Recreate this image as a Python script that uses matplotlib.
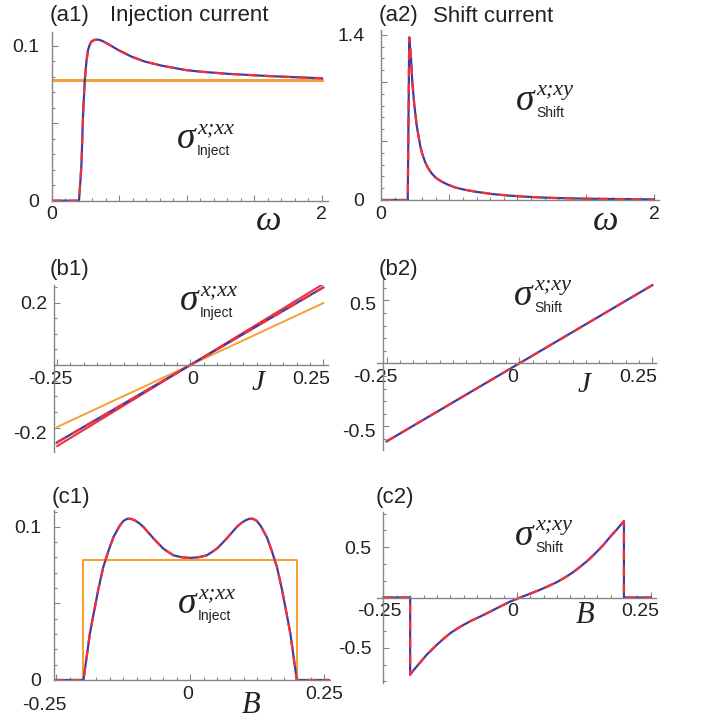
"""Six-panel figure: injection and shift current conductivities vs omega, J and B."""
import matplotlib
matplotlib.use("Agg")
import matplotlib.pyplot as plt
from matplotlib.ticker import MultipleLocator
from matplotlib.transforms import ScaledTranslation

W, H = 702, 719

# (a1) injection current vs omega
omega_a1 = [0.0, 0.200, 0.210, 0.218, 0.230, 0.243, 0.255, 0.267, 0.280, 0.292, 0.315,
            0.341, 0.365, 0.391, 0.44, 0.49, 0.589, 0.687, 0.811, 0.984, 1.095, 1.30,
            1.59, 1.80, 2.0]
inject_a1 = [0.0, 0.0, 0.0123, 0.0231, 0.0554, 0.0780, 0.0899, 0.0974, 0.1008, 0.1028, 0.1039,
             0.1041, 0.1035, 0.1024, 0.1000, 0.0974, 0.0931, 0.0899, 0.0873, 0.0845, 0.0834, 0.0820,
             0.0806, 0.0798, 0.0791]
omega_a1_ref = [0.0, 2.0]
inject_a1_ref = [0.078, 0.078]

# (a2) shift current vs omega
omega_a2 = [0.0, 0.196, 0.207, 0.220, 0.229, 0.244, 0.261, 0.286, 0.300, 0.322, 0.345,
            0.371, 0.400, 0.444, 0.490, 0.542, 0.600, 0.689, 0.811, 0.920, 1.055, 1.245,
            1.5, 2.0]
shift_a2 = [0.0, 0.0, 1.377, 1.202, 1.004, 0.806, 0.636, 0.467, 0.400, 0.325, 0.270,
            0.226, 0.190, 0.156, 0.130, 0.107, 0.090, 0.071, 0.051, 0.039, 0.028, 0.018,
            0.011, 0.005]

# (b1) injection current vs J
J_b = [-0.25, 0.0, 0.25]
inject_b1_exact = [-0.247, 0.0, 0.248]
inject_b1_approx = [-0.259, 0.0, 0.259]
inject_b1_ref = [-0.198, 0.0, 0.198]

# (b2) shift current vs J
shift_b2 = [-0.62, 0.0, 0.62]

# (c1) injection current vs B
B_c1 = [-0.254, -0.199, -0.193, -0.187, -0.180, -0.171, -0.162, -0.152, -0.143, -0.131,
        -0.124, -0.117, -0.110, -0.103, -0.095, -0.087, -0.078, -0.068, -0.059, -0.050,
        -0.040, -0.031, -0.015, 0.0, 0.015, 0.031, 0.040, 0.050, 0.059, 0.068,
        0.078, 0.087, 0.095, 0.103, 0.110, 0.117, 0.124, 0.131, 0.143, 0.152,
        0.162, 0.171, 0.180, 0.187, 0.193, 0.199, 0.26]
inject_c1 = [0.0, 0.0, 0.0152, 0.0304, 0.0434, 0.0597, 0.0738, 0.0847, 0.0934, 0.1010,
             0.1040, 0.1053, 0.1052, 0.1042, 0.1024, 0.0999, 0.0963, 0.0923, 0.0890, 0.0858,
             0.0834, 0.0814, 0.0801, 0.0797, 0.0801, 0.0814, 0.0834, 0.0858, 0.0890, 0.0923,
             0.0963, 0.0999, 0.1024, 0.1042, 0.1052, 0.1053, 0.1040, 0.1010, 0.0934, 0.0847,
             0.0738, 0.0597, 0.0434, 0.0304, 0.0152, 0.0, 0.0]
B_c1_ref = [-0.254, -0.2, -0.2, 0.2, 0.2, 0.26]
inject_c1_ref = [0.0, 0.0, 0.0785, 0.0785, 0.0, 0.0]

# (c2) shift current vs B
B_c2 = [-0.25, -0.2, -0.2, -0.194, -0.1875, -0.169, -0.150, -0.1375, -0.125, -0.1125,
        -0.100, -0.085, -0.069, -0.053, -0.038, -0.013, 0.006, 0.023, 0.040, 0.056,
        0.072, 0.087, 0.103, 0.118, 0.134, 0.149, 0.162, 0.174, 0.187, 0.2, 0.2, 0.25]
shift_c2 = [0.0, 0.0, -0.767, -0.725, -0.685, -0.569, -0.470, -0.410, -0.355, -0.311,
            -0.272, -0.229, -0.190, -0.148, -0.107, -0.041, 0.0, 0.035, 0.070, 0.107,
            0.146, 0.190, 0.244, 0.305, 0.375, 0.453, 0.525, 0.602, 0.678, 0.760, 0.0, 0.0]

BLUE = "#3c3ca2"
RED = "#f2303c"
ORANGE = "#f5a036"
GREY = "#858585"
INK = "#222222"

plt.rcParams["font.family"] = ["Liberation Sans", "DejaVu Sans"]
plt.rcParams["lines.scale_dashes"] = False

fig = plt.figure(figsize=(W / 100, H / 100), dpi=100)


def px_axes(x0, x1, y0, y1, xlim, ylim, yaxis_at=None):
    ax = fig.add_axes([x0 / W, 1 - y1 / H, (x1 - x0) / W, (y1 - y0) / H])
    ax.set_xlim(xlim)
    ax.set_ylim(ylim)
    ax.patch.set_alpha(0)
    for s in ("top", "right"):
        ax.spines[s].set_visible(False)
    ax.spines["bottom"].set_position(("data", 0))
    if yaxis_at is not None:
        ax.spines["left"].set_position(("data", yaxis_at))
    for s in ("bottom", "left"):
        ax.spines[s].set_color(GREY)
        ax.spines[s].set_linewidth(1.0)
    return ax


def ticks(ax, xt, xl, yt, yl, xminor, yminor, ypad=7):
    ax.set_xticks(xt, labels=xl)
    ax.set_yticks(yt, labels=yl)
    ax.xaxis.set_minor_locator(MultipleLocator(xminor))
    ax.yaxis.set_minor_locator(MultipleLocator(yminor))
    ax.tick_params(which="both", direction="in", color=GREY, width=0.8,
                   labelsize=14, labelcolor=INK)
    ax.tick_params(which="major", length=4.5)
    ax.tick_params(which="minor", length=2.5)
    ax.tick_params(axis="x", pad=4)
    ax.tick_params(axis="y", pad=ypad)


def nudge(labels, shifts):
    for lab, (dx, dy) in zip(labels, shifts):
        lab.set_transform(lab.get_transform()
                          + ScaledTranslation(dx / 100, -dy / 100, fig.dpi_scale_trans))


def pair(ax, x, y):
    ax.plot(x, y, color=BLUE, lw=1.6, solid_joinstyle="round")
    ax.plot(x, y, color=RED, lw=1.6, linestyle=(0, (7, 5)))


def ftext(x, y, s, **kw):
    kw.setdefault("color", INK)
    fig.text(x / W, 1 - y / H, s, **kw)


def sigma(x, y, sup, sub):
    ftext(x, y, "σ", fontsize=27, family="Liberation Serif", style="italic", va="baseline")
    ftext(x + 20, y - 15, sup, fontsize=16, family="Liberation Serif", style="italic",
          va="baseline")
    ftext(x + 20, y + 7, sub, fontsize=10, va="baseline")


def var(x, y, s, size):
    ftext(x, y, s, fontsize=size, family="Liberation Serif", style="italic", va="baseline")


# (a1)
ax = px_axes(52, 328, 32, 200.7, (0, 2.045), (0, 0.109))
ax.plot(omega_a1_ref, inject_a1_ref, color=ORANGE, lw=2.2)
pair(ax, omega_a1, inject_a1)
ticks(ax, [0, 0.5, 1, 1.5, 2], ["0", "", "", "", "2"],
      [0, 0.05, 0.1], ["0", "", "0.1"], 0.1, 0.01, ypad=9)

# (a2)
ax = px_axes(381, 659, 30, 200, (0, 2.037), (0, 1.44))
pair(ax, omega_a2, shift_a2)
ticks(ax, [0, 0.5, 1, 1.5, 2], ["0", "", "", "", "2"],
      [0, 0.5, 1.0, 1.4], ["0", "", "", "1.4"], 0.1, 0.1, ypad=12)

# (b1)
ax = px_axes(54, 328, 285, 452, (-0.256, 0.259), (-0.278, 0.256))
ax.plot(J_b, inject_b1_ref, color=ORANGE, lw=1.4)
ax.plot(J_b, inject_b1_approx, color=RED, lw=1.5)
pair(ax, J_b, inject_b1_exact)
ticks(ax, [-0.25, 0, 0.25], ["-0.25", "0", "0.25"],
      [-0.2, 0.2], ["-0.2", "0.2"], 0.025, 0.05, ypad=5)
nudge(ax.get_xticklabels(), [(-7, 0), (2, 0), (-12, 0)])
nudge(ax.get_yticklabels(), [(0, 5), (0, 0)])

# (b2)
ax = px_axes(377, 656, 278, 450, (-0.268, 0.257), (-0.688, 0.677), yaxis_at=-0.257)
pair(ax, J_b, shift_b2)
ticks(ax, [-0.25, 0, 0.25], ["-0.25", "0", "0.25"],
      [-0.5, 0.5], ["-0.5", "0.5"], 0.025, 0.1, ypad=5)
nudge(ax.get_xticklabels(), [(-11, 0), (-7, 0), (-14, 0)])
nudge(ax.get_yticklabels(), [(0, 4), (0, 3)])

# (c1)
ax = px_axes(54, 330, 510, 680, (-0.254, 0.261), (0, 0.111))
ax.plot(B_c1_ref, inject_c1_ref, color=ORANGE, lw=1.5)
pair(ax, B_c1, inject_c1)
ticks(ax, [-0.25, 0, 0.25], ["-0.25", "0", "0.25"],
      [0, 0.05, 0.1], ["0", "", "0.1"], 0.025, 0.01, ypad=9)
nudge(ax.get_xticklabels(), [(-12, 11), (-2, 0), (0, 0)])

# (c2)
ax = px_axes(377, 656, 512, 683, (-0.262, 0.26), (-0.85, 0.85), yaxis_at=-0.251)
pair(ax, B_c2, shift_c2)
ticks(ax, [-0.25, 0, 0.25], ["-0.25", "0", "0.25"],
      [-0.5, 0.5], ["-0.5", "0.5"], 0.025, 0.5 / 3, ypad=8)
nudge(ax.get_xticklabels(), [(-4, 0), (-4, 0), (-10, 0)])

# panel tags and titles
for x, y, s in [(50, 16, "(a1)"), (379, 16, "(a2)"), (50, 269, "(b1)"),
                (379, 269, "(b2)"), (52, 497, "(c1)"), (376, 497, "(c2)")]:
    ftext(x, y, s, fontsize=16, va="center")
ftext(110, 16, "Injection current", fontsize=16, va="center")
ftext(433, 16, "Shift current", fontsize=16, va="center")

# conductivity labels
sigma(177, 148, "x;xx", "Inject")
sigma(516, 110, "x;xy", "Shift")
sigma(180, 310, "x;xx", "Inject")
sigma(514, 305, "x;xy", "Shift")
sigma(178, 613, "x;xx", "Inject")
sigma(515, 545, "x;xy", "Shift")

# axis variables
var(256, 230, "ω", 26)
var(593, 230, "ω", 26)
var(252, 390, "J", 21)
var(578, 392, "J", 21)
var(242, 713, "B", 22)
var(576, 623, "B", 22)

fig.savefig("out.png", dpi=100)
